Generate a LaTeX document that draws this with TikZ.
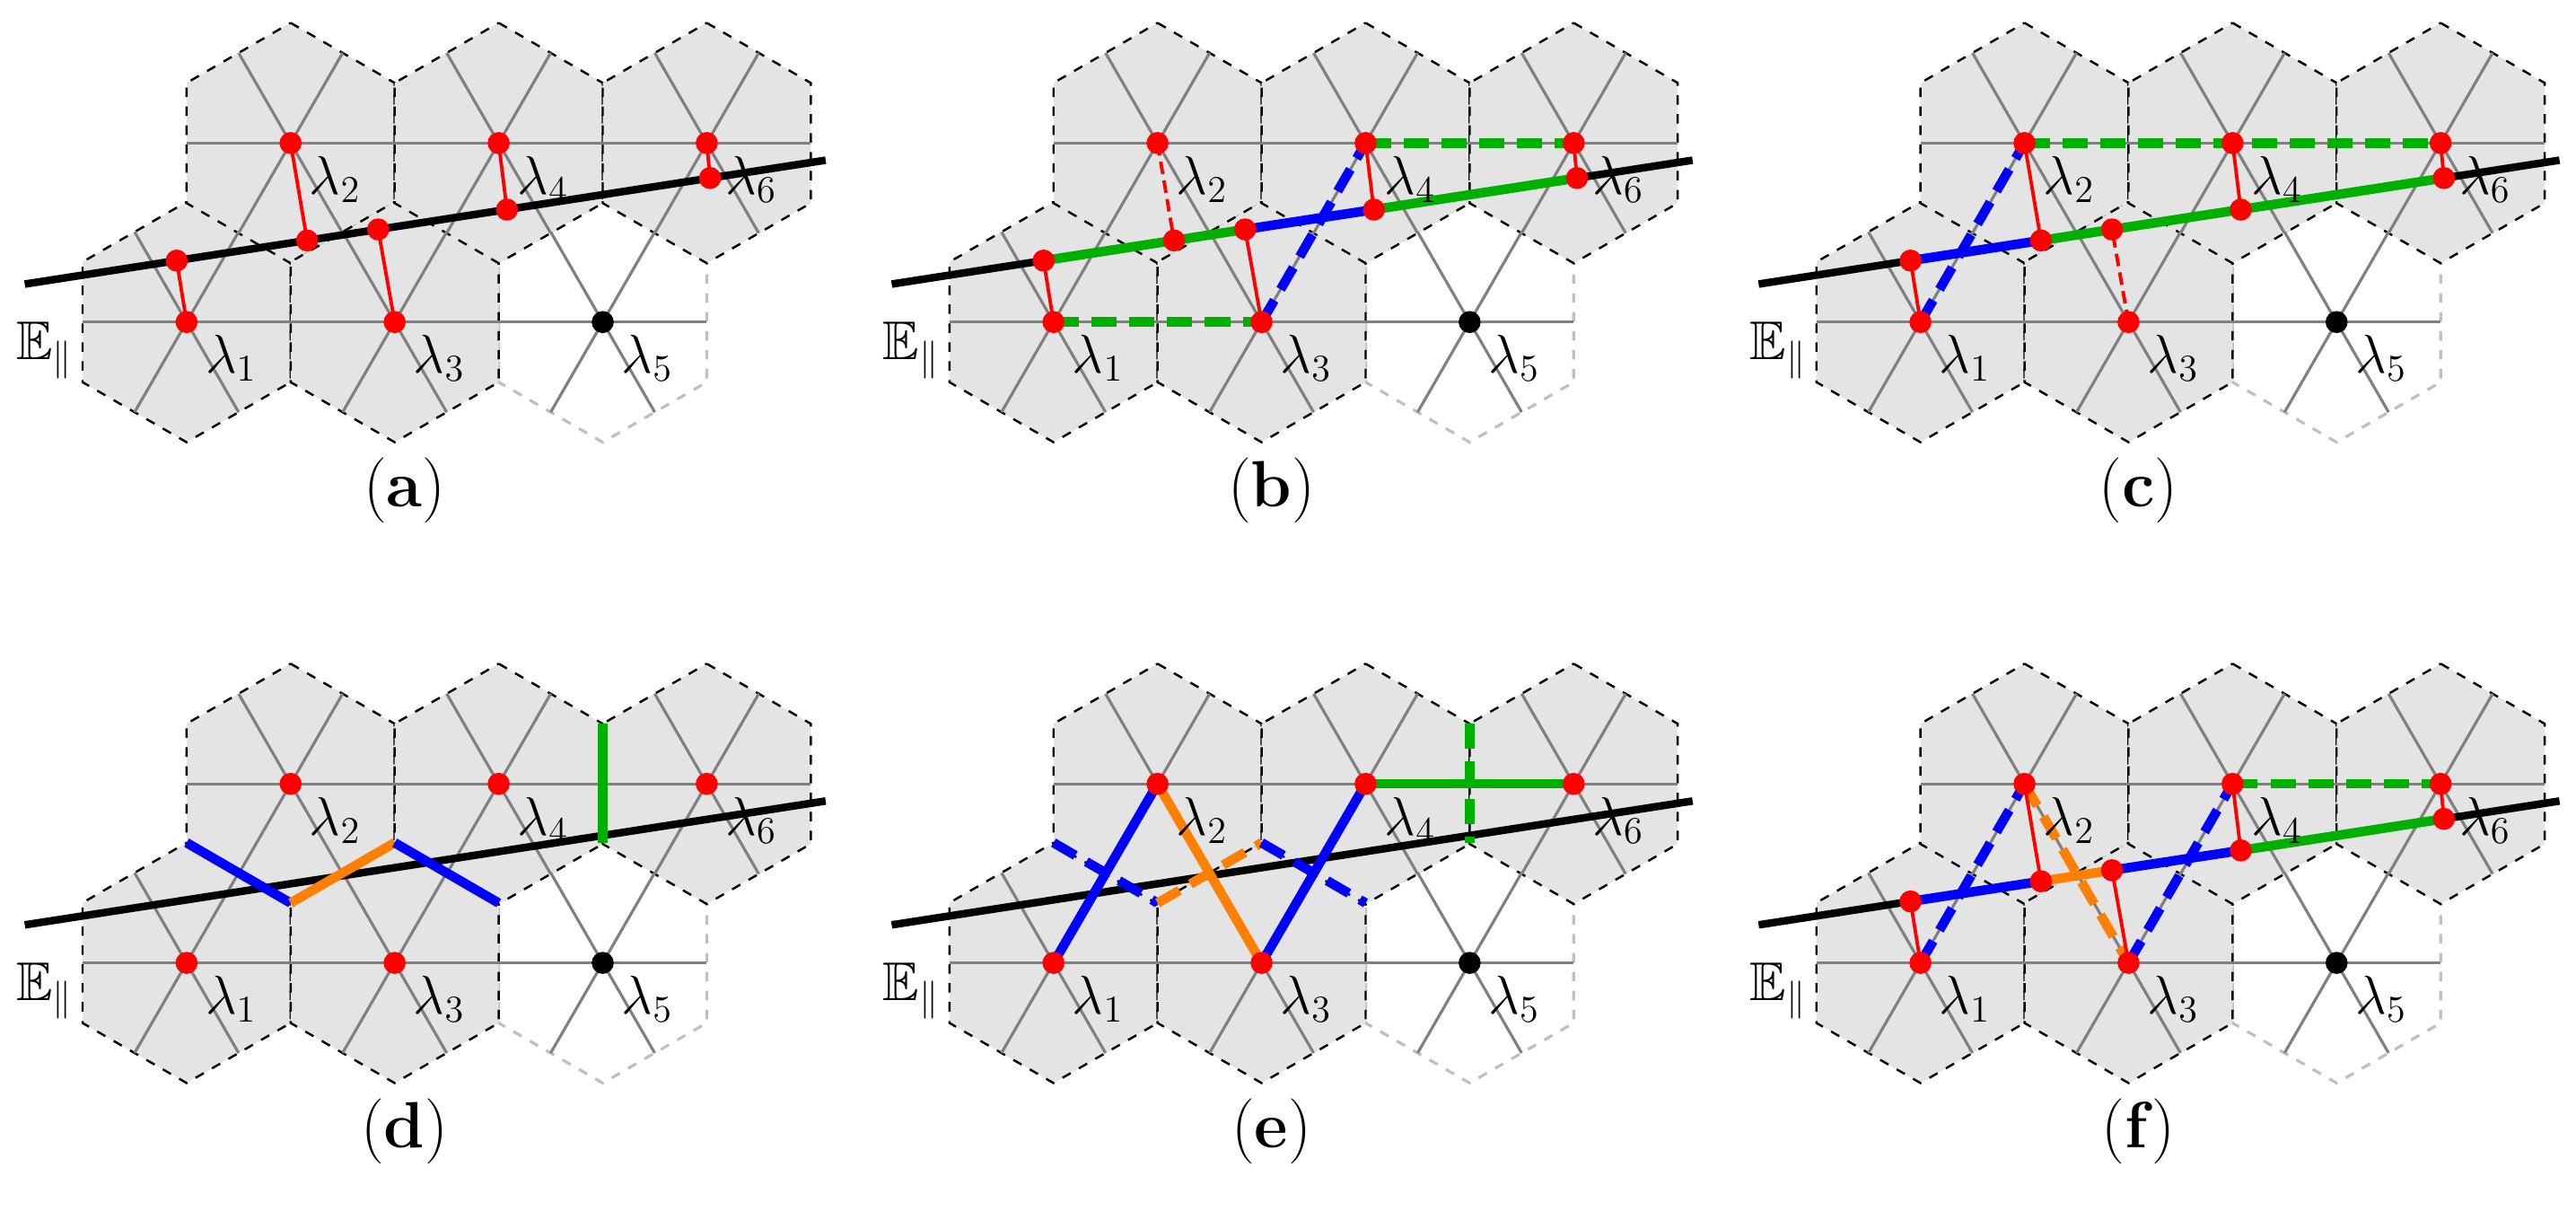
\documentclass[tikz,border=0pt]{standalone}
\usepackage{amsmath, amssymb}
\usetikzlibrary{calc}
\definecolor{cellgray}{RGB}{228,228,228}
\definecolor{pgreen}{RGB}{0,176,0}
\definecolor{porange}{RGB}{255,128,0}
\tikzset{
    cell/.style={fill=cellgray, draw=black, dashed, line width=0.7pt},
    emptycell/.style={fill=white, draw=black!25, dashed, line width=0.9pt},
    grid/.style={draw=black!50, line width=0.9pt},
    eline/.style={draw=black, line width=2.4pt},
    proj/.style={draw=red, line width=1.1pt},
    projd/.style={proj, dash pattern=on 4pt off 2pt},
    seg/.style={line width=3pt},
    segd/.style={line width=3pt, dash pattern=on 8pt off 4pt},
    dot/.style={circle, fill=red, inner sep=0pt, minimum size=7pt},
    bdot/.style={dot, fill=black},
    lab/.style={font=\LARGE},
    tag/.style={font=\huge}
}
% hexagon with its three inner lines
\newcommand{\hexcell}[2]{%
    \path[#2] ($(#1)+(0,-72.75)$) -- ($(#1)+(63,-36.4)$) -- ($(#1)+(63,36.4)$)
        -- ($(#1)+(0,72.75)$) -- ($(#1)+(-63,36.4)$) -- ($(#1)+(-63,-36.4)$) -- cycle;}
\newcommand{\hexlines}[1]{%
    \draw[grid] ($(#1)+(-63,0)$) -- ($(#1)+(63,0)$);
    \draw[grid] ($(#1)+(-31.5,-54.56)$) -- ($(#1)+(31.5,54.56)$);
    \draw[grid] ($(#1)+(31.5,-54.56)$) -- ($(#1)+(-31.5,54.56)$);}
% common background of every panel
\newcommand{\tiling}[1]{%
    \coordinate (L1) at (113,195);  \coordinate (L2) at (176,86.6);
    \coordinate (L3) at (239,195);  \coordinate (L4) at (302,86.6);
    \coordinate (L5) at (365,195);  \coordinate (L6) at (428,86.6);
    \coordinate (P1) at (107,157.8); \coordinate (P2) at (186,145.6);
    \coordinate (P3) at (229,138.9); \coordinate (P4) at (307,126.9);
    \coordinate (P6) at (430,107.8);
    \coordinate (Ea) at (15,172);    \coordinate (Eb) at (500,97);
    \coordinate (V1) at (113,122.25); \coordinate (V2) at (176,158.75);
    \coordinate (V3) at (239,122.25); \coordinate (V4) at (302,158.75);
    \coordinate (V5) at (365,49.9);   \coordinate (V6) at (365,122.25);
    \hexcell{L5}{emptycell}
    \foreach \c in {L1,L2,L3,L4,L6} {\hexcell{\c}{cell}}
    \foreach \c in {L1,L2,L3,L4,L5,L6} {\hexlines{\c}}
    \draw[eline] (Ea) -- (Eb);
    \node[font=\LARGE] (E) at (27,212) {$\mathbb{E}_\parallel$};
    \node[tag] (tag) at (245,297) {(\textbf{#1})};}
\newcommand{\centres}{%
    \foreach \c in {L1,L2,L3,L4,L6} {\node[dot] at (\c) {};}
    \node[bdot] at (L5) {};
    \foreach \i in {1,...,6} {\node[lab] at ($(L\i)+(27,22)$) {$\lambda_{\i}$};}}
\newcommand{\onlines}{%
    \foreach \i in {1,2,3,4,6} {\node[dot] at (P\i) {};}}

\begin{document}
\begin{tikzpicture}[x=0.018397cm, y=-0.018397cm]
    \useasboundingbox (0,0) rectangle (1560,738.6);

    % (a)
    \begin{scope}[shift={(0,0)}]
        \tiling{a}
        \foreach \i in {1,2,3,4,6} {\draw[proj] (L\i) -- (P\i);}
        \centres \onlines
    \end{scope}

    % (b)
    \begin{scope}[shift={(525,0)}]
        \tiling{b}
        \draw[seg, pgreen] (P1) -- (P3);
        \draw[seg, blue] (P3) -- (P4);
        \draw[seg, pgreen] (P4) -- (P6);
        \draw[segd, pgreen] (L1) -- (L3);
        \draw[segd, pgreen] (L4) -- (L6);
        \draw[segd, blue] (L3) -- (L4);
        \draw[projd] (L2) -- (P2);
        \foreach \i in {1,3,4,6} {\draw[proj] (L\i) -- (P\i);}
        \centres \onlines
    \end{scope}

    % (c)
    \begin{scope}[shift={(1050,0)}]
        \tiling{c}
        \draw[seg, blue] (P1) -- (P2);
        \draw[seg, pgreen] (P2) -- (P6);
        \draw[segd, blue] (L1) -- (L2);
        \draw[segd, pgreen] (L2) -- (L6);
        \draw[projd] (L3) -- (P3);
        \foreach \i in {1,2,4,6} {\draw[proj] (L\i) -- (P\i);}
        \centres \onlines
    \end{scope}

    % (d)
    \begin{scope}[shift={(0,388)}]
        \tiling{d}
        \draw[seg, blue] (V1) -- (V2);
        \draw[seg, porange] (V2) -- (V3);
        \draw[seg, blue] (V3) -- (V4);
        \draw[seg, pgreen] (V5) -- (V6);
        \centres
    \end{scope}

    % (e)
    \begin{scope}[shift={(525,388)}]
        \tiling{e}
        \draw[segd, blue] (V1) -- (V2);
        \draw[segd, porange] (V2) -- (V3);
        \draw[segd, blue] (V3) -- (V4);
        \draw[segd, pgreen] (V5) -- (V6);
        \draw[seg, blue] (L1) -- (L2);
        \draw[seg, porange] (L2) -- (L3);
        \draw[seg, blue] (L3) -- (L4);
        \draw[seg, pgreen] (L4) -- (L6);
        \centres
    \end{scope}

    % (f)
    \begin{scope}[shift={(1050,388)}]
        \tiling{f}
        \draw[seg, blue] (P1) -- (P2);
        \draw[seg, porange] (P2) -- (P3);
        \draw[seg, blue] (P3) -- (P4);
        \draw[seg, pgreen] (P4) -- (P6);
        \draw[segd, blue] (L1) -- (L2);
        \draw[segd, porange] (L2) -- (L3);
        \draw[segd, blue] (L3) -- (L4);
        \draw[segd, pgreen] (L4) -- (L6);
        \foreach \i in {1,2,3,4,6} {\draw[proj] (L\i) -- (P\i);}
        \centres \onlines
    \end{scope}
\end{tikzpicture}
\end{document}
